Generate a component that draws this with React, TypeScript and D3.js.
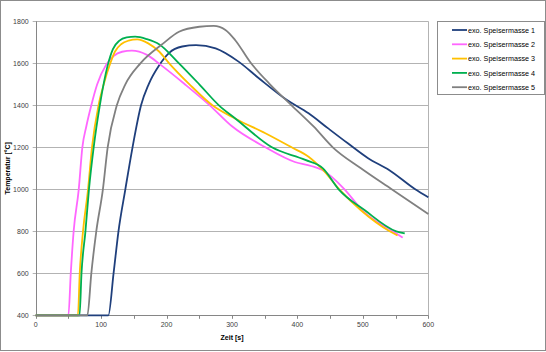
import React from 'react';
import * as d3 from 'd3';

// time [s] / temperature [°C] per series
const time1 = [0, 111, 119, 126.5, 137, 148, 161, 172.6, 189, 204, 224, 245, 275, 310, 341, 384, 417, 447, 477, 508, 540, 580, 600];
const temp1 = [400, 400, 600, 800, 1000, 1200, 1400, 1500, 1592, 1650, 1680, 1687, 1671, 1608, 1529, 1425, 1362, 1290, 1219, 1148, 1092, 1000, 962];

const time2 = [0, 50, 53.6, 58, 65.8, 71.3, 77.4, 85, 94, 108, 119, 132, 147, 170, 190, 230, 266, 300, 351, 396, 421, 438, 472, 499, 546, 561];
const temp2 = [400, 400, 600, 800, 1000, 1200, 1300, 1400, 1500, 1595, 1635, 1655, 1660, 1640, 1595, 1495, 1400, 1300, 1200, 1130, 1111, 1092, 1000, 900, 800, 770];

const time3 = [0, 64.5, 67.3, 72.3, 80, 86, 96, 104, 114, 121, 131, 142, 155, 172, 189, 204, 235, 270, 306, 351, 391, 417, 439, 464, 497, 541, 553];
const temp3 = [400, 400, 600, 800, 1000, 1200, 1400, 1500, 1600, 1655, 1692, 1708, 1714, 1695, 1655, 1600, 1500, 1400, 1335, 1267, 1200, 1155, 1092, 1000, 900, 800, 780];

const time4 = [0, 67, 70, 76, 81.4, 88.6, 98, 110, 118, 128, 139, 152, 170, 189, 219, 250, 280, 306, 361, 412, 439, 463, 503, 551, 564];
const temp4 = [400, 400, 600, 800, 1000, 1200, 1400, 1590, 1668, 1708, 1723, 1727, 1715, 1690, 1600, 1500, 1400, 1335, 1200, 1140, 1100, 1000, 900, 800, 790];

const time5 = [0, 79, 85, 92.6, 102.7, 110, 124, 137, 160, 195, 219, 250, 272, 290, 305, 328, 358, 391, 425, 454, 497, 544, 600];
const temp5 = [400, 400, 600, 800, 1000, 1200, 1400, 1500, 1600, 1695, 1750, 1774, 1778, 1759, 1710, 1605, 1500, 1400, 1298, 1200, 1100, 1000, 882];

const seriesNames = ['exo. Speisermasse 1', 'exo. Speisermasse 2', 'exo. Speisermasse 3', 'exo. Speisermasse 4', 'exo. Speisermasse 5'];
const seriesColors = ['#1f3f7c', '#ff66ff', '#ffc000', '#00b050', '#808080'];
const seriesTimes = [time1, time2, time3, time4, time5];
const seriesTemps = [temp1, temp2, temp3, temp4, temp5];

const xTicks = [0, 100, 200, 300, 400, 500, 600];
const xMinorTicks = [0, 50, 100, 150, 200, 250, 300, 350, 400, 450, 500, 550, 600];
const yTicks = [400, 600, 800, 1000, 1200, 1400, 1600, 1800];

const W = 546;
const H = 352;
const font = '"Liberation Sans", Arial, sans-serif';

export default function App() {
  const x = d3.scaleLinear().domain([0, 600]).range([35.7, 428.3]);
  const y = d3.scaleLinear().domain([400, 1800]).range([315.3, 21.3]);

  const line = d3.line<[number, number]>()
    .x(d => x(d[0]))
    .y(d => y(d[1]))
    .curve(d3.curveMonotoneX);

  const series = seriesNames.map((name, i) => ({
    name,
    color: seriesColors[i],
    points: seriesTimes[i].map((t, j) => [t, seriesTemps[i][j]] as [number, number]),
  }));

  const [x0, x1] = x.range();
  const [y0, y1] = y.range();

  return (
    <div style={{ position: 'absolute', left: 0, top: 0 }}>
      <svg width={W} height={H} style={{ display: 'block', background: '#fff' }}>
        <rect x={0.5} y={0.5} width={545} height={350} fill="#fff" stroke="#8c8c8c" />

        {/* gridlines */}
        {yTicks.map(v => (
          <line key={'g' + v} x1={x0 - 3} x2={x1} y1={Math.round(y(v)) + 0.5} y2={Math.round(y(v)) + 0.5} stroke="#b3b3b3" strokeWidth={1} />
        ))}
        {/* right border of plot area */}
        <line x1={Math.round(x1) + 0.5} x2={Math.round(x1) + 0.5} y1={y1} y2={y0} stroke="#b3b3b3" />
        {/* axes */}
        <line x1={Math.round(x0) + 0.5} x2={Math.round(x0) + 0.5} y1={y1} y2={y0 + 0.5} stroke="#868686" />
        <line x1={x0} x2={x1} y1={Math.round(y0) + 0.5} y2={Math.round(y0) + 0.5} stroke="#868686" />
        {xMinorTicks.map(v => (
          <line key={'t' + v} x1={Math.round(x(v)) + 0.5} x2={Math.round(x(v)) + 0.5} y1={y0} y2={y0 + 3.5} stroke="#868686" />
        ))}

        {/* tick labels */}
        {yTicks.map(v => (
          <text key={'yl' + v} x={x0 - 7} y={y(v) + 2.5} textAnchor="end" fontFamily={font} fontSize={7} fill="#404040">{v}</text>
        ))}
        {xTicks.map(v => (
          <text key={'xl' + v} x={x(v)} y={y0 + 12} textAnchor="middle" fontFamily={font} fontSize={7} fill="#404040">{v}</text>
        ))}

        {/* axis titles */}
        <text x={(x0 + x1) / 2} y={340} textAnchor="middle" fontFamily={font} fontSize={7} fontWeight="bold" fill="#000">Zeit [s]</text>
        <text transform={`translate(9.5,${(y0 + y1) / 2}) rotate(-90)`} textAnchor="middle" fontFamily={font} fontSize={7} fontWeight="bold" fill="#000">Temperatur [°C]</text>

        {/* series */}
        {series.map(s => (
          <path key={s.name} d={line(s.points) || ''} fill="none" stroke={s.color} strokeWidth={1.8} strokeLinejoin="round" />
        ))}

        {/* legend */}
        <rect x={437.5} y={21.5} width={107} height={73} fill="#fff" stroke="#8c8c8c" />
        {series.map((s, i) => (
          <g key={'lg' + i} transform={`translate(0,${30 + i * 14.3})`}>
            <line x1={452} x2={467} y1={0} y2={0} stroke={s.color} strokeWidth={1.8} />
            <text x={468} y={2.6} fontFamily={font} fontSize={7.2} fill="#000">{s.name}</text>
          </g>
        ))}
      </svg>
    </div>
  );
}
